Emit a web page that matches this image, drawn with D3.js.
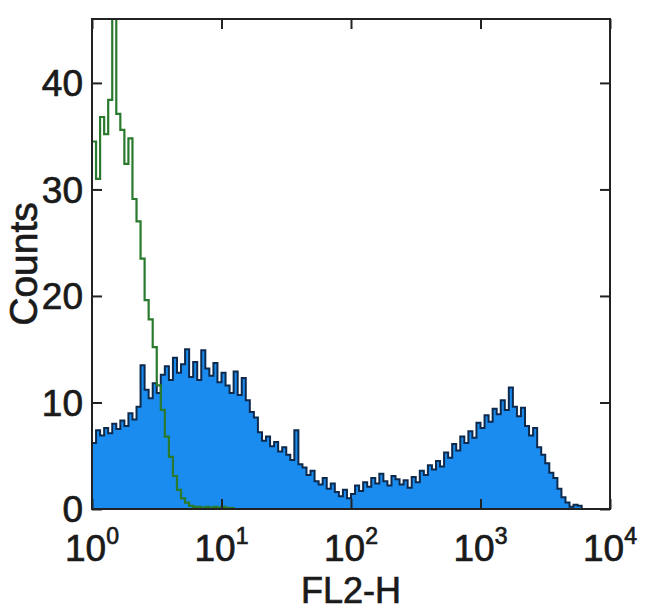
<!DOCTYPE html>
<meta charset="utf-8">
<style>
  body { margin: 0; background: #fff; }
  text { font-family: "Liberation Sans", Arial, sans-serif; fill: #1a1a1a; stroke: #1a1a1a; stroke-width: 0.7px; }
</style>
<body>
  <div id="graph"></div>
  <script src="https://d3js.org/d3.v7.min.js"></script>
  <script>
    // histogram channels: 128 log-spaced bins from 10^0 to 10^4
    var decades = 4;
    var nBins = 128;

    // stained sample (blue filled)
    var blueCounts = [
      6.2, 7.4, 6.9, 7.6, 7.1, 8.0, 7.5, 8.3,
      7.8, 9.0, 8.4, 9.6, 13.5, 11.2, 10.4, 11.8,
      10.9, 12.6, 13.4, 12.1, 14.2, 12.8, 13.6, 15.0,
      12.4, 13.8, 12.1, 14.9, 13.2, 12.5, 13.7, 11.9,
      12.8, 11.6, 10.9, 12.9, 10.7, 12.3, 10.2, 9.1,
      8.6, 7.2, 6.4, 6.8, 5.9, 6.3, 5.4, 5.8,
      5.1, 4.6, 7.4, 4.2, 3.9, 3.2, 3.6, 2.6,
      2.3, 2.9, 1.9, 2.4, 1.6, 1.2, 1.8, 1.0,
      1.4, 2.2, 1.7, 2.5, 2.1, 2.9, 2.4, 3.3,
      2.6, 2.2, 3.1, 2.8, 2.3, 2.7, 2.0, 3.0,
      2.5, 3.6, 3.2, 4.1, 3.7, 4.5, 4.0, 5.3,
      4.8, 6.1, 5.5, 6.8, 6.2, 7.3, 6.7, 8.1,
      7.6, 8.8, 8.2, 9.4, 8.9, 10.2, 9.3, 11.4,
      9.6, 8.7, 9.5, 7.8, 6.9, 7.6, 5.8, 5.1,
      4.3, 3.4, 2.9, 1.9, 1.1, 0.6, 0.2, 0.4,
      0.3, 0, 0, 0, 0, 0, 0, 0
    ];

    // isotype control (green line), remaining channels are empty
    var greenCounts = [
      34.5, 31.0, 36.8, 35.2, 38.4, 48.0, 37.1, 35.6,
      32.4, 34.8, 29.1, 27.0, 23.5, 19.6, 17.8, 15.2,
      11.6, 9.3, 6.8, 4.9, 3.1, 1.8, 1.0, 0.6,
      0.3, 0.2, 0.2, 0.1, 0.2, 0.1, 0.2, 0.1,
      0.2, 0.1, 0.1, 0
    ];

    var yTicks = [0, 10, 20, 30, 40];
    var xTickExps = [0, 1, 2, 3, 4];
    var yMax = 46;

    var margin = { top: 19, right: 40, bottom: 106, left: 92 },
      width = 650 - margin.left - margin.right,
      height = 615 - margin.top - margin.bottom;

    var x = d3.scaleLog()
      .domain([1, Math.pow(10, decades)])
      .range([0, width]);

    var y = d3.scaleLinear()
      .domain([0, yMax])
      .range([height, 0]);

    function edge(i) {
      return Math.pow(10, i * decades / nBins);
    }

    function toSteps(counts) {
      var pts = counts.map(function(v, i) {
        return { lo: edge(i), v: v };
      });
      pts.push({ lo: edge(counts.length), v: counts[counts.length - 1] });
      return pts;
    }

    var svg = d3.select("#graph")
      .append("svg")
      .attr("width", 650)
      .attr("height", 615)
      .append("g")
      .attr("transform", "translate(" + margin.left + "," + margin.top + ")");

    svg.append("clipPath")
      .attr("id", "plotclip")
      .append("rect")
      .attr("width", width)
      .attr("height", height);

    var plot = svg.append("g").attr("clip-path", "url(#plotclip)");

    var area = d3.area()
      .curve(d3.curveStepAfter)
      .x(function(d) { return x(d.lo); })
      .y0(y(0))
      .y1(function(d) { return y(d.v); });

    var line = d3.line()
      .curve(d3.curveStepAfter)
      .x(function(d) { return x(d.lo); })
      .y(function(d) { return y(d.v); });

    var blueSteps = toSteps(blueCounts);

    plot.append("path")
      .datum(blueSteps)
      .attr("fill", "#1a8cf0")
      .attr("d", area);

    plot.append("path")
      .datum(blueSteps)
      .attr("fill", "none")
      .attr("stroke", "#0d2a4d")
      .attr("stroke-width", 2)
      .attr("d", line);

    plot.append("path")
      .datum(toSteps(greenCounts))
      .attr("fill", "none")
      .attr("stroke", "#2a7a2e")
      .attr("stroke-width", 2.2)
      .attr("d", line);

    // box frame
    svg.append("rect")
      .attr("width", width)
      .attr("height", height)
      .attr("fill", "none")
      .attr("stroke", "#222")
      .attr("stroke-width", 2);

    // inward ticks on all four sides
    var xTickVals = xTickExps.map(function(e) { return Math.pow(10, e); });

    svg.append("g")
      .attr("transform", "translate(0," + height + ")")
      .call(d3.axisTop(x).tickValues(xTickVals).tickSize(10).tickFormat(""))
      .call(function(g) { g.select(".domain").remove(); });

    svg.append("g")
      .call(d3.axisBottom(x).tickValues(xTickVals).tickSize(10).tickFormat(""))
      .call(function(g) { g.select(".domain").remove(); });

    svg.append("g")
      .call(d3.axisRight(y).tickValues(yTicks).tickSize(10).tickFormat(""))
      .call(function(g) { g.select(".domain").remove(); });

    svg.append("g")
      .attr("transform", "translate(" + width + ",0)")
      .call(d3.axisLeft(y).tickValues(yTicks).tickSize(10).tickFormat(""))
      .call(function(g) { g.select(".domain").remove(); });

    svg.selectAll(".tick line")
      .attr("stroke", "#222")
      .attr("stroke-width", 2);

    // y tick labels
    svg.selectAll(".ylab")
      .data(yTicks)
      .enter().append("text")
      .attr("class", "ylab")
      .attr("x", -9)
      .attr("y", function(d) { return y(d); })
      .attr("dy", "0.36em")
      .style("text-anchor", "end")
      .style("font-size", "37px")
      .text(function(d) { return d; });

    // x tick labels: 10 with superscript exponent
    var xl = svg.selectAll(".xlab")
      .data(xTickExps)
      .enter().append("text")
      .attr("class", "xlab")
      .attr("x", function(d) { return x(Math.pow(10, d)); })
      .attr("y", height + 52)
      .style("text-anchor", "middle")
      .style("font-size", "37px");

    xl.append("tspan").text("10");
    xl.append("tspan")
      .attr("dy", "-0.72em")
      .style("font-size", "23px")
      .text(function(d) { return d; });

    svg.append("text")
      .attr("x", width / 2)
      .attr("y", height + 94)
      .style("text-anchor", "middle")
      .style("font-size", "36px")
      .text("FL2-H");

    svg.append("text")
      .attr("transform", "translate(-55," + height / 2 + ") rotate(-90)")
      .style("text-anchor", "middle")
      .style("font-size", "39px")
      .text("Counts");
  </script>
</body>
